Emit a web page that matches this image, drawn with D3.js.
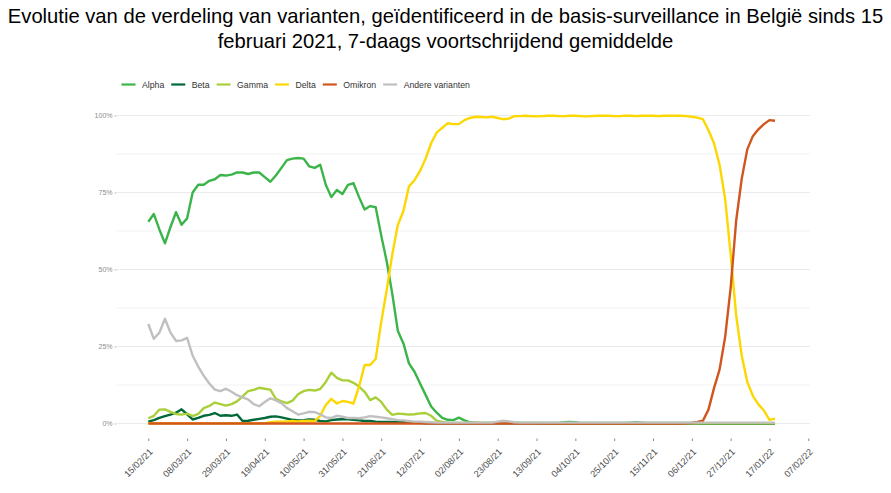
<!DOCTYPE html>
<html>
<head>
<meta charset="utf-8">
<script src="https://cdn.jsdelivr.net/npm/d3@7"></script>
<style>
  html, body { margin: 0; padding: 0; background: #fff; }
  svg { display: block; font-family: "Liberation Sans", Arial, sans-serif; }
</style>
</head>
<body>
<svg id="chart" width="891" height="493"></svg>
<script>
// ---------------- DATA ----------------
const titleLines = [
  "Evolutie van de verdeling van varianten, geïdentificeerd in de basis-surveillance in België sinds 15",
  "februari 2021, 7-daags voortschrijdend gemiddelde"
];
const seriesNames = ["Alpha", "Beta", "Gamma", "Delta", "Omikron", "Andere varianten"];
const seriesColors = ["#3bb44a", "#00693a", "#a9cf3a", "#fcd700", "#d0561e", "#c0c0c0"];
const startDate = "2021-02-15";   // first observation
const stepDays = 3;               // one value every 3 days

const alpha = [65.5,68,63,58.5,63.8,68.6,64.5,66.6,75,77.5,77.5,78.8,79.3,80.7,80.5,80.8,81.5,81.5,81,81.5,
  81.5,80,78.5,80.5,83,85.5,86,86.2,86,83.5,83,84,77.5,73.5,75.8,74.5,77.5,78,73.5,69.5,
  70.6,70.2,61,52.5,42,30,26,19.5,16.8,13,9.3,5.5,3.5,1.8,1.2,1.1,1.9,1.0,0.4,
  0.3,0.2,0.2,0.2,0.2,0.2,0.2,0.2,0.2,0.2,0.2,0.2,0.2,0.2,0.2,0.2,
  0.4,0.5,0.4,
  0.2,0.2,0.2,0.2,0.2,0.2,0.2,0.2,0.2,
  0.3,0.4,0.3,
  0.2,0.2,0.2,0.2,0.2,0.2,0.2,0.2,0.2,0.2,
  0.1,0.1,0.1,0.1,0.1,0.1,0.1,0.1,0.1,0.1,0.1,0.1,0.1,0.1];
const beta = [0.6,1.1,1.8,2.4,2.9,3.5,4.6,3,1.3,1.8,2.5,2.8,3.4,2.5,2.7,2.5,2.9,0.8,0.9,1.2,
  1.5,1.8,2.2,2.3,2,1.6,1.2,1,1.1,1.3,1.2,0.8,0.7,1.1,1.3,1.4,1.4,1.2,1,0.8,
  0.8,0.6,0.5,0.5,0.5,0.4,0.4,0.3,0.3,0.2,
  0.1,0.1,0.1,0.1,0.1,0.1,0.1,0.1,0.1,0.1,0.1,0.1,0.1,0.1,0.1,0.1,0.1,0.1,0.1,0.1,0.1,
  0,0,0,0,0,0,0,0,0,0,0,0,0,0,0,0,0,0,0,0,0,0,0,0,0,0,0,0,0,0,0,0,0,0,0,0,0,0,0,0,0,0,0];
const gamma = [1.7,2.5,4.5,4.6,3.8,3.1,2.9,3.2,2.4,3.1,5,5.7,6.8,6.3,5.8,6.3,7.2,8.8,10.5,10.9,
  11.6,11.3,11,8,7.2,6.6,7.4,9.5,10.5,10.9,10.7,11.2,13.5,16.5,14.8,14,14,13.2,12,10.3,
  7.6,8.5,7,4.5,2.8,3.2,3.1,2.9,3,3.3,3.4,2.5,0.9,0.5,0.3,
  0.2,0.2,0.2,0.2,0.2,0.2,0.2,0.2,0.2,0.2,0.2,0.2,0.2,0.2,0.2,0.2,
  0.1,0.1,0.1,0.1,0.1,0.1,0.1,0.1,0.1,0.1,0.1,0.1,0.1,0.1,0.1,0.1,0.1,0.1,0.1,0.1,0.1,
  0.1,0.1,0.1,0.1,0.1,0.1,0.1,0.1,0.1,0.1,0.1,0.1,0.1,0.1,0.1,0.1,0.1,0.1,0.1,0.1,0.1,0.1];
const delta = [0.1,0.1,0.1,0.1,0.1,0.1,0.1,0.1,0.1,0.1,0.1,0.1,0.1,0.1,0.1,0.1,0.1,0.1,0.1,0.1,0.1,0.1,
  0.4,0.6,0.6,0.7,0.8,0.7,0.8,0.9,0.8,2.5,6,8,6.5,7.3,7,6.5,12,19,
  19,21,33,43.5,55,64.5,69,77,79,82,86,91,94.5,96,97.5,97.2,97.2,98.5,99.2,99.6,
  99.5,99.4,99.6,99.2,98.8,99,99.8,
  99.8,99.9,99.8,99.7,99.8,99.9,99.9,99.8,99.8,99.9,99.9,99.8,99.7,99.8,99.9,
  99.9,99.9,99.8,99.8,99.9,99.9,99.8,99.9,99.9,99.9,99.8,99.9,99.9,99.9,
  99.9,99.8,99.6,99.3,98.8,95.2,91,84,73,55,35,22,13.5,9,6.2,4.2,1.2,1.6];
const omikron = [0,0,0,0,0,0,0,0,0,0,0,0,0,0,0,0,0,0,0,0,0,0,0,0,0,0,0,0,0,0,0,0,0,0,0,0,0,0,0,0,
  0,0,0,0,0,0,0,0,0,0,0,0,0,0,0,0,0,0,0,0,0,0,0,0,0,0,0,0,0,0,0,0,0,0,0,0,0,0,0,0,
  0,0,0,0,0,0,0,0,0,0,0,0,0,0,0,0,0,
  0.1,0.2,0.5,0.9,4.5,11.5,17.5,28,44,66,79.5,89,93.3,95.5,97.2,98.5,98.3];
const andere = [32.3,27.5,29.5,34,29.5,26.8,27,27.8,22,18.5,15.5,13,11,10.5,11.3,10.3,9.2,8.5,7.8,6.3,
  5.6,7,8.2,7.5,6.6,5,4,2.9,3.3,3.8,3.7,3,2,1.8,2.5,2.2,1.8,1.8,1.7,2,
  2.4,2.2,2,1.7,1.4,1.1,1,0.8,0.6,0.6,0.5,0.4,
  0.3,0.3,0.3,0.3,0.3,0.3,0.3,0.3,0.3,0.3,0.3,
  0.6,0.9,0.7,0.4,
  0.3,0.3,0.3,0.3,0.3,0.3,0.3,0.3,0.3,0.3,0.3,0.3,0.3,0.3,0.3,0.3,0.3,0.3,0.3,0.3,
  0.3,0.3,0.3,0.3,0.3,0.3,0.3,0.3,0.3,0.3,0.3,0.3,0.3,0.3,0.3,0.3,0.3,0.3,0.3,0.3,
  0.3,0.3,0.3,0.3,0.3,0.3,0.3];
const xTickLabels = ["15/02/21","08/03/21","29/03/21","19/04/21","10/05/21","31/05/21","21/06/21",
  "12/07/21","02/08/21","23/08/21","13/09/21","04/10/21","25/10/21","15/11/21","06/12/21",
  "27/12/21","17/01/22","07/02/22"];
const yTickValues = [0, 25, 50, 75, 100];
const yMinorValues = [12.5, 37.5, 62.5, 87.5];

// ---------------- CHART ----------------
const svg = d3.select("#chart");
const W = 891, H = 493;
const parseDMY = d3.timeParse("%d/%m/%y");
const fmtDMY = d3.timeFormat("%d/%m/%y");
const t0 = d3.timeParse("%Y-%m-%d")(startDate);
const seriesValues = [alpha, beta, gamma, delta, omikron, andere];

const xTicks = xTickLabels.map(parseDMY);
const panel = { left: 116.5, right: 810, top: 100, bottom: 438.5 };

const x = d3.scaleTime()
  .domain([xTicks[0], xTicks[xTicks.length - 1]])
  .range([148.3, 808.3]);
const y = d3.scaleLinear().domain([0, 100]).range([423.5, 115.5]);

// Title
svg.append("g").selectAll("text").data(titleLines).join("text")
  .attr("x", W / 2).attr("y", (d, i) => 23 + i * 25)
  .attr("text-anchor", "middle")
  .attr("font-size", 20.2).attr("fill", "#000")
  .text(d => d);

// Grid
const grid = svg.append("g");
grid.selectAll("line.minor").data(yMinorValues).join("line")
  .attr("class", "minor")
  .attr("x1", panel.left).attr("x2", panel.right)
  .attr("y1", d => y(d)).attr("y2", d => y(d))
  .attr("stroke", "#f0f0f0").attr("stroke-width", 0.8);
grid.selectAll("line.major").data(yTickValues).join("line")
  .attr("class", "major")
  .attr("x1", panel.left).attr("x2", panel.right)
  .attr("y1", d => y(d)).attr("y2", d => y(d))
  .attr("stroke", "#ebebeb").attr("stroke-width", 1);

// Y axis
const yAxis = d3.axisLeft(y).tickValues(yTickValues).tickFormat(d => d + "%")
  .tickSize(2).tickPadding(2);
const gy = svg.append("g").attr("transform", `translate(${panel.left},0)`).call(yAxis);
gy.select(".domain").remove();
gy.selectAll(".tick line").attr("stroke", "#999").attr("stroke-width", 0.6);
gy.selectAll(".tick text").attr("font-size", 7).attr("fill", "#8c8c8c")
  .attr("font-family", "Liberation Sans, Arial, sans-serif");

// X axis
const xAxis = d3.axisBottom(x).tickValues(xTicks).tickFormat(fmtDMY).tickSize(2.5).tickPadding(0);
const gx = svg.append("g").attr("transform", `translate(0,${panel.bottom})`).call(xAxis);
gx.select(".domain").remove();
gx.selectAll(".tick line").attr("stroke", "#555").attr("stroke-width", 0.7);
gx.selectAll(".tick text")
  .attr("font-size", 9.2).attr("fill", "#4d4d4d")
  .attr("font-family", "Liberation Sans, Arial, sans-serif")
  .attr("text-anchor", "end")
  .attr("dy", null)
  .attr("transform", "translate(4.5,14) rotate(-45)")
  .attr("y", 0).attr("x", 0);

// Lines
const line = d3.line()
  .x((d, i) => x(d3.timeDay.offset(t0, i * stepDays)))
  .y(d => y(d));
svg.append("g").selectAll("path").data(seriesValues).join("path")
  .attr("d", d => line(d))
  .attr("fill", "none")
  .attr("stroke", (d, i) => seriesColors[i])
  .attr("stroke-width", 2.4)
  .attr("stroke-linejoin", "round")
  .attr("stroke-linecap", "butt");

// Legend
const legend = svg.append("g").attr("transform", "translate(121.5,84.5)");
let lx = 0;
seriesNames.forEach((name, i) => {
  const g = legend.append("g").attr("transform", `translate(${lx},0)`);
  g.append("line").attr("x1", 0).attr("x2", 14).attr("y1", 0).attr("y2", 0)
    .attr("stroke", seriesColors[i]).attr("stroke-width", 2.2);
  const t = g.append("text").attr("x", 20.5).attr("y", 0).attr("dy", "0.35em")
    .attr("font-size", 8.7).attr("fill", "#333").text(name);
  lx += 20.5 + t.node().getComputedTextLength() + 7;
});
</script>
</body>
</html>
